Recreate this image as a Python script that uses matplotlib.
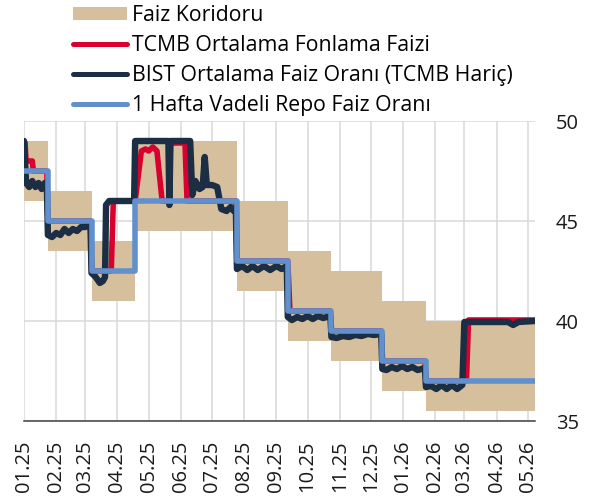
import matplotlib
matplotlib.use("Agg")
import matplotlib.pyplot as plt
from matplotlib.patches import Patch
from matplotlib.lines import Line2D
import pandas as pd

plt.rcParams['font.family'] = ['Open Sans', 'DejaVu Sans']

# policy corridor and one-week repo rate (step series, effective dates)
corridor_dates = ['2025-01-01', '2025-01-24', '2025-03-07', '2025-04-18', '2025-07-25',
                  '2025-09-12', '2025-10-24', '2025-12-12', '2026-01-23', '2026-05-08']
corridor_upper = [49.0, 46.5, 44.0, 49.0, 46.0, 43.5, 42.5, 41.0, 40.0, 40.0]
corridor_lower = [46.0, 43.5, 41.0, 44.5, 41.5, 39.0, 38.0, 36.5, 35.5, 35.5]
repo_rate = [47.5, 45.0, 42.5, 46.0, 43.0, 40.5, 39.5, 38.0, 37.0, 37.0]

# TCMB average funding rate
tcmb_dates = ['2025-01-01', '2025-01-02', '2025-01-03', '2025-01-09', '2025-01-10', '2025-01-23',
              '2025-01-24', '2025-03-06', '2025-03-07', '2025-03-26', '2025-03-28', '2025-04-18',
              '2025-04-24', '2025-04-28', '2025-05-01', '2025-05-05', '2025-05-09', '2025-05-14',
              '2025-05-21', '2025-05-22', '2025-06-05', '2025-06-07', '2025-07-24', '2025-07-25',
              '2025-09-12', '2025-09-14', '2025-10-23', '2025-10-24', '2025-12-11', '2025-12-12',
              '2026-01-22', '2026-01-23', '2026-03-03', '2026-03-05', '2026-05-08']
tcmb_rate = [49.0, 48.9, 48.0, 48.0, 47.5, 47.5,
             45.0, 45.0, 42.5, 42.5, 46.0, 46.0,
             48.5, 48.6, 48.5, 48.7, 48.5, 46.0,
             46.0, 48.9, 48.9, 46.0, 46.0, 43.0,
             43.0, 40.5, 40.5, 39.5, 39.5, 38.0,
             38.0, 37.0, 37.0, 40.05, 40.05]

# BIST average rate (excluding TCMB)
bist_dates = ['2025-01-01', '2025-01-03', '2025-01-06', '2025-01-09', '2025-01-12', '2025-01-15',
              '2025-01-18', '2025-01-21', '2025-01-23', '2025-01-24', '2025-01-28', '2025-02-01',
              '2025-02-05', '2025-02-09', '2025-02-13', '2025-02-17', '2025-02-21', '2025-02-25',
              '2025-03-01', '2025-03-06', '2025-03-07', '2025-03-11', '2025-03-15', '2025-03-18',
              '2025-03-20', '2025-03-21', '2025-03-24', '2025-04-17', '2025-04-18', '2025-05-20',
              '2025-05-21', '2025-05-22', '2025-06-10', '2025-06-12', '2025-06-15', '2025-06-19',
              '2025-06-22', '2025-06-24', '2025-06-26', '2025-07-01', '2025-07-06', '2025-07-10',
              '2025-07-15', '2025-07-19', '2025-07-22', '2025-07-24', '2025-07-25', '2025-07-30',
              '2025-08-04', '2025-08-09', '2025-08-14', '2025-08-20', '2025-08-26', '2025-09-01',
              '2025-09-06', '2025-09-11', '2025-09-12', '2025-09-16', '2025-09-21', '2025-09-26',
              '2025-10-01', '2025-10-06', '2025-10-11', '2025-10-16', '2025-10-23', '2025-10-24',
              '2025-10-29', '2025-11-04', '2025-11-10', '2025-11-16', '2025-11-22', '2025-11-28',
              '2025-12-04', '2025-12-11', '2025-12-12', '2025-12-16', '2025-12-21', '2025-12-26',
              '2025-12-31', '2026-01-05', '2026-01-10', '2026-01-15', '2026-01-22', '2026-01-23',
              '2026-01-28', '2026-02-02', '2026-02-07', '2026-02-12', '2026-02-17', '2026-02-22',
              '2026-02-27', '2026-03-01', '2026-04-12', '2026-04-17', '2026-04-22', '2026-05-08']
bist_rate = [49.0, 46.9, 46.7, 47.0, 46.7, 46.9,
             46.6, 46.9, 46.8, 44.3, 44.2, 44.4,
             44.3, 44.6, 44.4, 44.6, 44.5, 44.7,
             44.7, 44.8, 42.4, 42.2, 41.9, 42.0,
             42.2, 45.8, 46.0, 46.0, 49.0, 49.0,
             45.8, 49.0, 49.0, 46.3, 47.0, 46.6,
             46.7, 48.2, 46.8, 46.8, 46.7, 45.6,
             45.5, 45.7, 45.5, 45.6, 42.6, 42.75,
             42.55, 42.75, 42.55, 42.75, 42.55, 42.75,
             42.6, 42.75, 40.2, 40.05, 40.2, 40.1,
             40.25, 40.1, 40.25, 40.15, 40.25, 39.2,
             39.15, 39.25, 39.2, 39.3, 39.25, 39.35,
             39.3, 39.35, 37.6, 37.55, 37.7, 37.6,
             37.75, 37.6, 37.7, 37.55, 37.65, 36.7,
             36.75, 36.6, 36.8, 36.6, 36.8, 36.6,
             36.8, 39.95, 39.95, 39.8, 39.95, 40.0]

tick_months = pd.date_range('2025-01-01', '2026-05-01', freq='MS')
tick_labels = [d.strftime('%m.%y') for d in tick_months]

col_corr = '#D5BF9C'
col_tcmb = '#D7002F'
col_bist = '#1B2E44'
col_repo = '#6190CC'

fig = plt.figure(figsize=(5.93, 4.98), dpi=100)
ax = fig.add_axes([24 / 593, 77 / 498, 511 / 593, 300 / 498])

cd = pd.to_datetime(corridor_dates)
ax.fill_between(cd, corridor_lower, corridor_upper, step='post', color=col_corr, lw=0, zorder=1)
ax.plot(pd.to_datetime(tcmb_dates), tcmb_rate, color=col_tcmb, lw=4.0,
        solid_capstyle='round', solid_joinstyle='round', zorder=2)
ax.plot(pd.to_datetime(bist_dates), bist_rate, color=col_bist, lw=4.6,
        solid_capstyle='round', solid_joinstyle='round', zorder=3)
ax.plot(cd, repo_rate, drawstyle='steps-post', color=col_repo, lw=4.0,
        solid_capstyle='round', solid_joinstyle='round', zorder=4)

ax.set_xlim(pd.Timestamp('2025-01-01'), pd.Timestamp('2026-05-08'))
ax.set_ylim(35, 50)
ax.set_yticks([35, 40, 45, 50])
ax.set_xticks(tick_months)
ax.set_xticklabels(tick_labels, rotation=90)
ax.yaxis.tick_right()
ax.tick_params(axis='y', length=0, pad=15, labelsize=14.5, colors='#1a1a1a')
ax.tick_params(axis='x', length=0, pad=14, labelsize=14.5, colors='#1a1a1a')

ax.set_axisbelow(True)
ax.grid(True, color='#D9D9D9', lw=1.1)
for s in ['top', 'right', 'left']:
    ax.spines[s].set_visible(False)
ax.spines['bottom'].set_color('#404040')
ax.spines['bottom'].set_linewidth(1.1)

handles = [
    Patch(facecolor=col_corr, edgecolor='none'),
    Line2D([], [], color=col_tcmb, lw=3.6, solid_capstyle='round'),
    Line2D([], [], color=col_bist, lw=3.6, solid_capstyle='round'),
    Line2D([], [], color=col_repo, lw=3.6, solid_capstyle='round'),
]
labels = ['Faiz Koridoru', 'TCMB Ortalama Fonlama Faizi',
          'BIST Ortalama Faiz Oranı (TCMB Hariç)', '1 Hafta Vadeli Repo Faiz Oranı']
fig.legend(handles, labels, loc='upper left', bbox_to_anchor=(73 / 593, 1 - 5 / 498),
           frameon=False, fontsize=15.3, handlelength=2.55, handleheight=0.6,
           handletextpad=0.22, labelspacing=0.42, borderpad=0, borderaxespad=0)

fig.savefig('out.png', dpi=100)
